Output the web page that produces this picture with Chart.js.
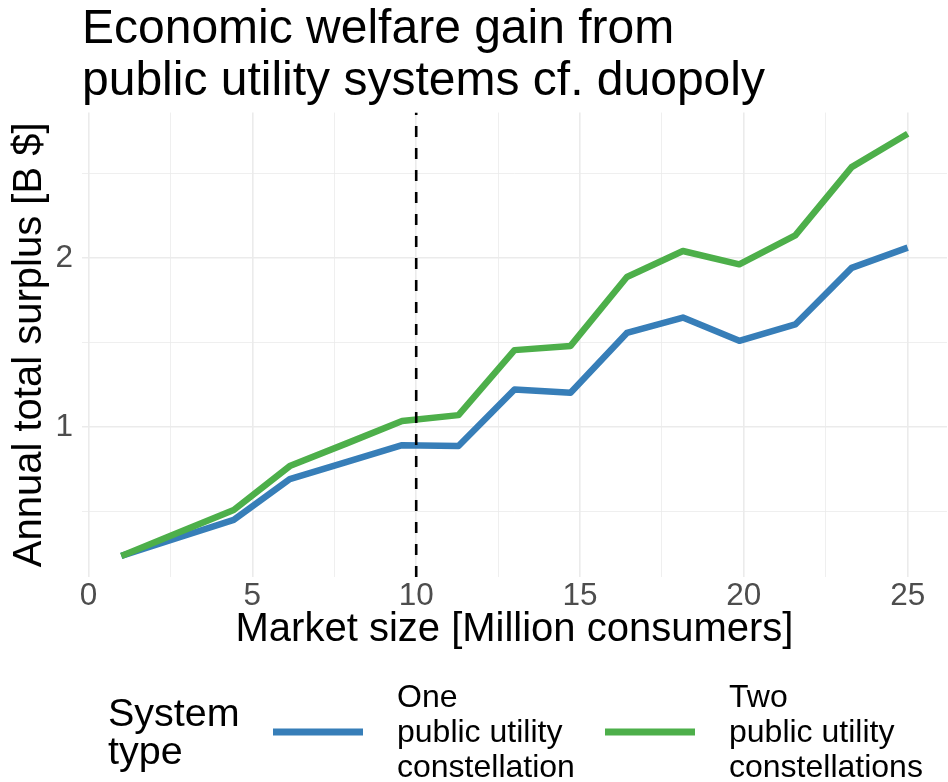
<!DOCTYPE html>
<html>
<head>
<meta charset="utf-8">
<script src="https://cdn.jsdelivr.net/npm/chart.js@4/dist/chart.umd.min.js"></script>
<style>
  html, body { margin: 0; padding: 0; background: #fff; }
  #wrap { width: 948px; height: 782px; position: relative; }
</style>
</head>
<body>
<div id="wrap"><canvas id="grafica"></canvas></div>
<script>
// market size, million consumers
var marketSize = [1, 2.71, 4.43, 6.14, 7.86, 9.57, 11.29, 13, 14.71, 16.43, 18.14, 19.86, 21.57, 23.29, 25];
// annual total surplus, B $
var oneUtility = [0.237, 0.343, 0.450, 0.692, 0.793, 0.893, 0.888, 1.223, 1.203, 1.558, 1.649, 1.511, 1.608, 1.943, 2.063];
var twoUtility = [0.237, 0.373, 0.509, 0.769, 0.902, 1.036, 1.071, 1.456, 1.481, 1.889, 2.043, 1.964, 2.136, 2.540, 2.738];
var seriesNames = [['One', 'public utility', 'constellation'], ['Two', 'public utility', 'constellations']];
var seriesColors = ['#377EB8', '#4DAF4A'];
var legendTitle = ['System', 'type'];
var xTicks = [0, 2.5, 5, 7.5, 10, 12.5, 15, 17.5, 20, 22.5, 25];
var yTicks = [0.5, 1, 1.5, 2, 2.5];
var cutoff = 10;
var xRange = [-0.2, 26.2];
var yRange = [0.112, 2.863];

var FONT = '"Liberation Sans", Arial, sans-serif';

function pts(xs, ys) {
    return xs.map(function(x, i){ return {x: x, y: ys[i]}; });
}

// legend drawn by hand, chart.js can't do multi-line labels nicely
var sysLegend = {
    id: 'sysLegend',
    afterDraw: function(chart) {
        var ctx = chart.ctx;
        ctx.save();
        ctx.fillStyle = '#000';
        ctx.textAlign = 'left';
        ctx.textBaseline = 'alphabetic';
        ctx.font = '39.5px ' + FONT;
        ctx.fillText(legendTitle[0], 108, 726);
        ctx.fillText(legendTitle[1], 108, 764);

        var keyX = [273, 605];
        var textX = [397, 729];
        for (var i = 0; i < seriesNames.length; i++) {
            ctx.strokeStyle = seriesColors[i];
            ctx.lineWidth = 7;
            ctx.lineCap = 'butt';
            ctx.beginPath();
            ctx.moveTo(keyX[i], 732);
            ctx.lineTo(keyX[i] + 90, 732);
            ctx.stroke();
            ctx.font = '32px ' + FONT;
            for (var j = 0; j < seriesNames[i].length; j++) {
                ctx.fillText(seriesNames[i][j], textX[i], 707 + j * 35);
            }
        }
        ctx.restore();
    }
};

var ctx = document.getElementById('grafica').getContext('2d');
var chart = new Chart(ctx, {
    type: 'line',
    data: {
        datasets: [{
            label: 'cutoff',
            data: [{x: cutoff, y: yRange[0]}, {x: cutoff, y: yRange[1]}],
            borderColor: '#000',
            borderWidth: 2.6,
            borderDash: [11, 11],
            pointRadius: 0
        }, {
            label: seriesNames[1].join(' '),
            data: pts(marketSize, twoUtility),
            borderColor: seriesColors[1],
            borderWidth: 6.5,
            borderJoinStyle: 'round',
            pointRadius: 0
        }, {
            label: seriesNames[0].join(' '),
            data: pts(marketSize, oneUtility),
            borderColor: seriesColors[0],
            borderWidth: 6.5,
            borderJoinStyle: 'round',
            pointRadius: 0
        }]
    },
    options: {
        responsive: true,
        maintainAspectRatio: false,
        animation: false,
        layout: { padding: { top: 0, left: 0, right: 1, bottom: 125 } },
        plugins: {
            legend: { display: false },
            tooltip: { enabled: false },
            title: {
                display: true,
                text: ['Economic welfare gain from', 'public utility systems cf. duopoly'],
                align: 'start',
                fullSize: false,
                color: '#000',
                font: { family: FONT, size: 48, weight: 'normal', lineHeight: 1.1 },
                padding: { top: 3, bottom: 4 }
            }
        },
        scales: {
            x: {
                type: 'linear',
                min: xRange[0],
                max: xRange[1],
                afterBuildTicks: function(s){ s.ticks = xTicks.map(function(v){ return {value: v}; }); },
                afterFit: function(s){ s.height = 80; },
                border: { display: false },
                grid: {
                    color: '#EBEBEB',
                    drawTicks: false,
                    lineWidth: function(c){ return c.tick && c.tick.value % 5 === 0 ? 1.6 : 0.8; }
                },
                ticks: {
                    padding: 0,
                    color: '#4D4D4D',
                    font: { family: FONT, size: 31.5 },
                    maxRotation: 0,
                    autoSkip: false,
                    callback: function(v){ return v % 5 === 0 ? String(v) : ''; }
                },
                title: {
                    display: true,
                    text: 'Market size [Million consumers]',
                    color: '#000',
                    font: { family: FONT, size: 40 },
                    padding: { top: 0, bottom: 3 }
                }
            },
            y: {
                type: 'linear',
                min: yRange[0],
                max: yRange[1],
                afterBuildTicks: function(s){ s.ticks = yTicks.map(function(v){ return {value: v}; }); },
                afterFit: function(s){ s.width = 82; },
                border: { display: false },
                grid: {
                    color: '#EBEBEB',
                    drawTicks: false,
                    lineWidth: function(c){ return c.tick && c.tick.value % 1 === 0 ? 1.6 : 0.8; }
                },
                ticks: {
                    padding: 9,
                    color: '#4D4D4D',
                    font: { family: FONT, size: 31.5 },
                    autoSkip: false,
                    callback: function(v){ return v % 1 === 0 ? String(v) : ''; }
                },
                title: {
                    display: true,
                    text: 'Annual total surplus [B $]',
                    color: '#000',
                    font: { family: FONT, size: 40 },
                    padding: { top: 6, bottom: 3 }
                }
            }
        }
    },
    plugins: [sysLegend]
});
</script>
</body>
</html>
